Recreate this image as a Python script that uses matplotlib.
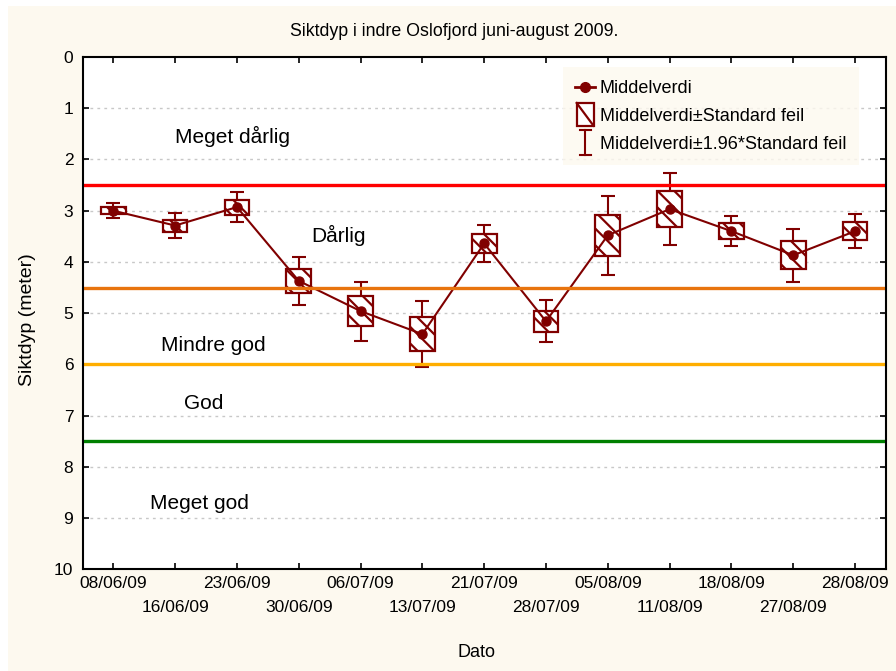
import matplotlib.pyplot as plt
from matplotlib.patches import Rectangle
from matplotlib.lines import Line2D
from matplotlib.legend_handler import HandlerBase

plt.rcParams['font.family'] = ['Liberation Sans', 'DejaVu Sans']
plt.rcParams['hatch.linewidth'] = 1.6

DARK = '#800000'
CREAM = '#FDF9EF'

dates = ['08/06/09', '16/06/09', '23/06/09', '30/06/09', '06/07/09', '13/07/09', '21/07/09',
         '28/07/09', '05/08/09', '11/08/09', '18/08/09', '27/08/09', '28/08/09']
means = [3.00, 3.29, 2.93, 4.37, 4.96, 5.41, 3.64, 5.16, 3.48, 2.97, 3.40, 3.87, 3.40]
se = [0.065, 0.117, 0.146, 0.24, 0.293, 0.328, 0.186, 0.21, 0.397, 0.358, 0.15, 0.27, 0.17]
ci = [0.147, 0.238, 0.29, 0.47, 0.576, 0.64, 0.36, 0.41, 0.77, 0.70, 0.29, 0.52, 0.33]

limits = [2.5, 4.5, 6.0, 7.5]
limit_colors = ['#FF0000', '#E8740E', '#FFAE00', '#008000']

zone_names = ['Meget dårlig', 'Dårlig', 'Mindre god', 'God', 'Meget god']
zone_x = [1.93, 3.64, 1.62, 1.47, 1.39]
zone_y = [1.56, 3.49, 5.64, 6.77, 8.71]

x = list(range(len(dates)))


class BoxHandler(HandlerBase):
    def create_artists(self, legend, orig_handle, xdescent, ydescent, width, height, fontsize, trans):
        w = width * 0.85
        h = height * 1.8
        x0 = -xdescent + (width - w) / 2
        y0 = -ydescent + (height - h) / 2
        r = Rectangle((x0, y0), w, h, facecolor='white', edgecolor=DARK, lw=1.6, transform=trans)
        d = Line2D([x0, x0 + w], [y0 + h, y0], color=DARK, lw=1.6, transform=trans)
        return [r, d]


class WhiskerHandler(HandlerBase):
    def create_artists(self, legend, orig_handle, xdescent, ydescent, width, height, fontsize, trans):
        cx = -xdescent + width / 2
        h = height * 2.0
        y0 = -ydescent + (height - h) / 2
        cw = width * 0.28
        arts = [Line2D([cx, cx], [y0, y0 + h], color=DARK, lw=1.5, transform=trans),
                Line2D([cx - cw, cx + cw], [y0, y0], color=DARK, lw=1.5, transform=trans),
                Line2D([cx - cw, cx + cw], [y0 + h, y0 + h], color=DARK, lw=1.5, transform=trans)]
        return arts


fig = plt.figure(figsize=(8.96, 6.71), dpi=100, facecolor='white')
fig.patches.append(Rectangle((8 / 896, 0), 1, 1 - 6 / 671, transform=fig.transFigure,
                             facecolor=CREAM, edgecolor='none', zorder=-10))
ax = fig.add_axes([83 / 896, 1 - 569.3 / 671, 803 / 896, 512.3 / 671])
ax.set_facecolor('white')

for yv in range(1, 10):
    ax.axhline(yv, color='#C8C8C8', lw=1, linestyle=(0, (2, 3)), zorder=1)

ax.errorbar(x, means, yerr=ci, fmt='none', ecolor=DARK, elinewidth=1.5, capsize=4.7,
            capthick=1.5, zorder=2)
ax.bar(x, [2 * s for s in se], bottom=[m - s for m, s in zip(means, se)], width=0.4,
       facecolor='white', edgecolor=DARK, linewidth=1.6, hatch='\\\\', zorder=3)
ax.plot(x, means, 'o-', color=DARK, lw=1.5, ms=6.5, zorder=4)

for lv, lc in zip(limits, limit_colors):
    ax.axhline(lv, color=lc, lw=2.4, zorder=5)

for name, zx, zy in zip(zone_names, zone_x, zone_y):
    ax.text(zx, zy, name, fontsize=15, ha='center', va='center', zorder=6)

ax.set_xlim(-0.49, 12.5)
ax.set_ylim(10, 0)
ax.set_yticks(range(0, 11))
ax.set_xticks(x)
ax.set_xticklabels(dates)
ax.tick_params(axis='both', direction='in', length=4, width=1.2, labelsize=12.5,
               top=True, right=True, color='black')
ax.tick_params(axis='y', pad=7)
ax.tick_params(axis='x', pad=5)
for i, t in enumerate(ax.xaxis.get_major_ticks()):
    if i % 2 == 1:
        t.set_pad(22)
for sp in ax.spines.values():
    sp.set_linewidth(1.5)
    sp.set_zorder(7)

ax.set_xlabel('Dato', fontsize=13)
ax.xaxis.set_label_coords(0.49, -0.145)
ax.set_ylabel('Siktdyp (meter)', fontsize=14)
ax.yaxis.set_label_coords(-0.059, 0.488)

fig.text(454 / 896, 1 - 32 / 671, 'Siktdyp i indre Oslofjord juni-august 2009.',
         fontsize=12.8, ha='center', va='center')

h_mean = Line2D([], [], color=DARK, marker='o', lw=2, ms=7)
h_box = Rectangle((0, 0), 1, 1)
h_ci = Line2D([], [])
leg = ax.legend([h_mean, h_box, h_ci],
                ['Middelverdi', 'Middelverdi±Standard feil', 'Middelverdi±1.96*Standard feil'],
                handler_map={Rectangle: BoxHandler(), h_ci: WhiskerHandler()},
                loc='upper right', bbox_to_anchor=(0.966, 0.980), borderaxespad=0,
                fontsize=13, handlelength=1.1, handletextpad=0.25, labelspacing=0.6,
                numpoints=1, frameon=True, fancybox=False, borderpad=0.7)
leg.get_frame().set_facecolor(CREAM)
leg.get_frame().set_edgecolor('none')
leg.set_zorder(8)

plt.savefig('out.png', dpi=100)
